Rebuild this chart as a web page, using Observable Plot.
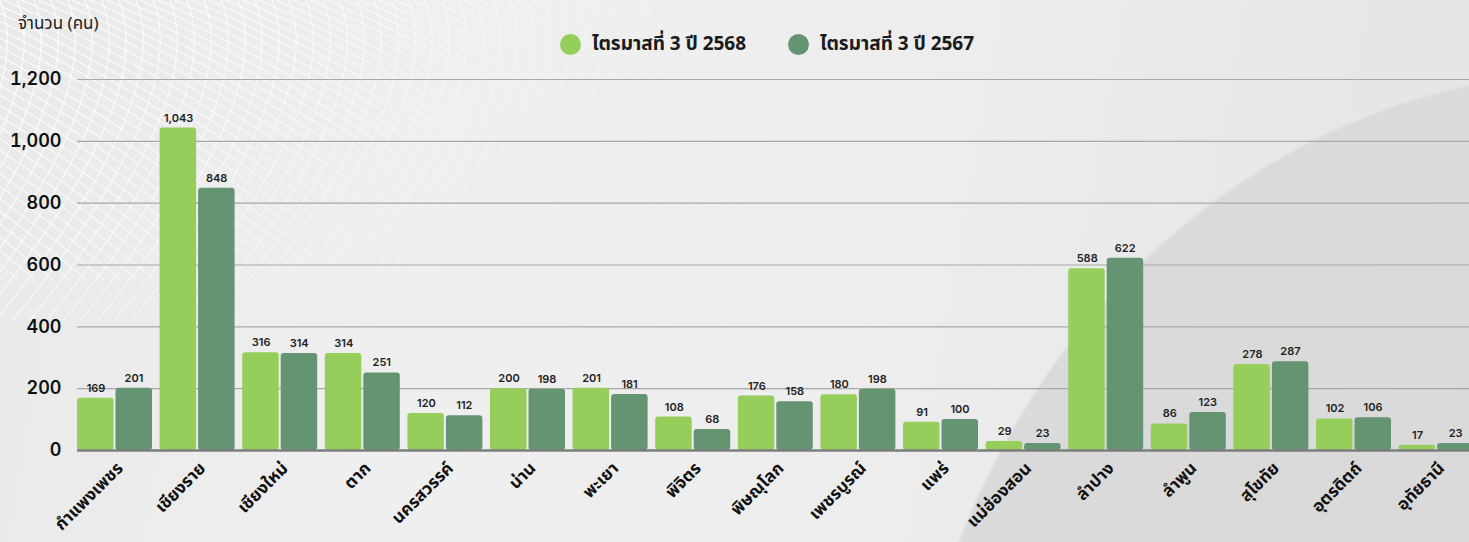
<!DOCTYPE html>
<html>
<head>
<meta charset="utf-8">
<script src="https://cdn.jsdelivr.net/npm/d3@7"></script>
<script src="https://cdn.jsdelivr.net/npm/@observablehq/plot@0.6"></script>
<style>
  html, body { margin: 0; padding: 0; }
  body { width: 1469px; height: 542px; overflow: hidden; font-family: "Noto Sans Thai", "Noto Sans", Lato, sans-serif; }
  #wrap { position: relative; width: 1469px; height: 542px; overflow: hidden;
    background:
      radial-gradient(ellipse 700px 780px at 1600px 850px, #d9d9da 0%, #dadadb 99.5%, rgba(217,217,218,0) 100%),
      linear-gradient(100deg, #e9e9e9 0%, #efefef 30%, #ededed 60%, #e4e4e5 100%);
  }
  #mesh { position: absolute; left: 0; top: 0; }
  #ytitle { position: absolute; left: 18px; top: 11px; font-size: 17px; color: #222; }
  .li { position: absolute; top: 30px; display: flex; align-items: center; gap: 11px; font-size: 19px; font-weight: bold; color: #1a1a1a; white-space: nowrap; }
  .dot { width: 21px; height: 21px; border-radius: 50%; display: inline-block; }
  #chart { position: absolute; left: 0; top: 0; }
</style>
</head>
<body>
<div id="wrap">
  <svg id="mesh" width="1469" height="542"></svg>
  <div id="ytitle">จำนวน (คน)</div>
  <div id="legend"></div>
  <div id="chart"></div>
</div>
<script>
const provinces = ["กำแพงเพชร","เชียงราย","เชียงใหม่","ตาก","นครสวรรค์","น่าน","พะเยา","พิจิตร","พิษณุโลก","เพชรบูรณ์","แพร่","แม่ฮ่องสอน","ลำปาง","ลำพูน","สุโขทัย","อุตรดิตถ์","อุทัยธานี"];
const q3_2568 = [169,1043,316,314,120,200,201,108,176,180,91,29,588,86,278,102,17];
const q3_2567 = [201,848,314,251,112,198,181,68,158,198,100,23,622,123,287,106,23];
const seriesNames = ["ไตรมาสที่ 3 ปี 2568", "ไตรมาสที่ 3 ปี 2567"];
const seriesColors = ["#96ce5c", "#649472"];
const yTicks = [0, 200, 400, 600, 800, 1000, 1200];

// decorative mesh in top-left (background only)
(function(){
  const svg = d3.select("#mesh");
  const defs = svg.append("defs");
  const lg = defs.append("linearGradient").attr("id", "fade").attr("x1", "0").attr("y1", "0").attr("x2", "1").attr("y2", "0.8");
  lg.append("stop").attr("offset", "0").attr("stop-color", "#fff").attr("stop-opacity", 1);
  lg.append("stop").attr("offset", "0.3").attr("stop-color", "#fff").attr("stop-opacity", 0.7);
  lg.append("stop").attr("offset", "0.6").attr("stop-color", "#fff").attr("stop-opacity", 0);
  const m = defs.append("mask").attr("id", "m").attr("maskUnits", "userSpaceOnUse").attr("x", 0).attr("y", 0).attr("width", 1469).attr("height", 542);
  m.append("rect").attr("width", 800).attr("height", 542).attr("fill", "url(#fade)");
  const g = svg.append("g").attr("mask", "url(#m)").attr("stroke", "#ffffff").attr("stroke-opacity", 0.85).attr("fill", "none").attr("stroke-width", 1.3);
  for (let i = -20; i < 50; i++) {
    const x0 = i * 17;
    g.append("path").attr("d", `M${x0},0 Q${x0 + 40},100 ${x0 - 140},320`);
    g.append("path").attr("d", `M${x0 - 200},0 Q${x0 + 10},90 ${x0 + 240},280`);
  }
})();

// legend
const legend = document.getElementById("legend");
const legendLeft = [560, 788];
seriesNames.forEach((n, i) => {
  const d = document.createElement("div"); d.className = "li";
  d.style.left = legendLeft[i] + "px";
  d.innerHTML = `<span class="dot" style="background:${seriesColors[i]}"></span><span>${n}</span>`;
  legend.appendChild(d);
});

const d68 = provinces.map((p, i) => ({province: p, value: q3_2568[i]}));
const d67 = provinces.map((p, i) => ({province: p, value: q3_2567[i]}));
const fmt = d3.format(",");
const font = '"Noto Sans Thai", "Noto Sans", Lato, sans-serif';
const numFont = 'Inter, "Noto Sans", sans-serif';

const chart = Plot.plot({
  width: 1469,
  height: 542,
  marginTop: 79,
  marginBottom: 92,
  marginLeft: 77,
  marginRight: 0,
  style: { background: "transparent", fontFamily: font, overflow: "visible" },
  x: { domain: provinces, range: [69.4, 1481.2], padding: 0.092, round: false, label: null },
  y: { domain: [0, 1200], label: null },
  marks: [
    Plot.ruleY(yTicks.slice(1), { stroke: "#a8a8a8", strokeWidth: 1.2 }),
    Plot.barY(d68, { x: "province", y: "value", fill: seriesColors[0], insetRight: 38.5, rx: 3 }),
    Plot.barY(d67, { x: "province", y: "value", fill: seriesColors[1], insetLeft: 38.5, rx: 3 }),
    Plot.ruleY([0], { stroke: "#7d7d7d", strokeWidth: 2.5 }),
    Plot.text(d68, { x: "province", y: "value", text: d => fmt(d.value), dx: -19, dy: -10, fontSize: 11, fontWeight: 600, fill: "#222", fontFamily: numFont }),
    Plot.text(d67, { x: "province", y: "value", text: d => fmt(d.value), dx: 19, dy: -10, fontSize: 11, fontWeight: 600, fill: "#222", fontFamily: numFont }),
    Plot.axisY({ ticks: yTicks, tickFormat: fmt, tickSize: 0, tickPadding: 16, fontSize: 18, fontWeight: 600, fill: "#111", label: null, fontFamily: numFont }),
    Plot.axisX({ tickSize: 0, tickRotate: -45, tickPadding: 15, dx: 5, fontSize: 17, fontWeight: "bold", fill: "#111", label: null })
  ]
});
document.getElementById("chart").appendChild(chart);
</script>
</body>
</html>
